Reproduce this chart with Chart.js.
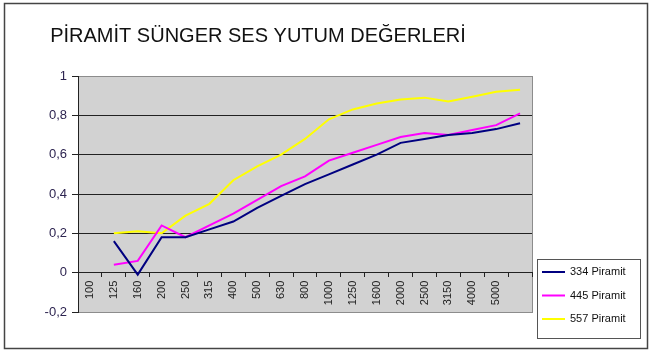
<!DOCTYPE html>
<html>
<head>
<meta charset="utf-8">
<script src="https://cdn.jsdelivr.net/npm/chart.js@4/dist/chart.umd.min.js"></script>
<style>
html, body { margin: 0; padding: 0; background: #fff; }
#wrap { width: 652px; height: 353px; }
</style>
</head>
<body>
<div id="wrap"><canvas id="chart" width="652" height="353"></canvas></div>
<script>
const titleText = 'PİRAMİT SÜNGER SES YUTUM DEĞERLERİ';
const frequencies = ['100', '125', '160', '200', '250', '315', '400', '500', '630', '800', '1000', '1250', '1600', '2000', '2500', '3150', '4000', '5000', ''];
const piramit334 = [null, 0.16, -0.01, 0.18, 0.18, 0.22, 0.26, 0.33, 0.39, 0.45, 0.50, 0.55, 0.60, 0.66, 0.68, 0.70, 0.71, 0.73, 0.76];
const piramit445 = [null, 0.04, 0.06, 0.24, 0.18, 0.24, 0.30, 0.37, 0.44, 0.49, 0.57, 0.61, 0.65, 0.69, 0.71, 0.70, 0.725, 0.75, 0.81];
const piramit557 = [null, 0.20, 0.21, 0.20, 0.29, 0.35, 0.47, 0.54, 0.60, 0.68, 0.78, 0.83, 0.86, 0.88, 0.89, 0.87, 0.895, 0.92, 0.93];
const seriesNames = ['334 Piramit', '445 Piramit', '557 Piramit'];

const FONT = '"Liberation Sans", Arial, sans-serif';

// frame, title, gray plot area and boxed legend
const decor = {
  id: 'decor',
  beforeDraw(chart) {
    const c = chart.ctx, a = chart.chartArea;
    c.save();
    c.fillStyle = '#fff';
    c.fillRect(0, 0, chart.width, chart.height);
    c.strokeStyle = '#444';
    c.lineWidth = 1.5;
    c.strokeRect(4.5, 3.5, 643, 345);
    c.fillStyle = '#d2d2d2';
    c.fillRect(a.left, a.top, a.right - a.left, a.bottom - a.top);
    c.strokeStyle = '#8c8c8c';
    c.lineWidth = 1;
    c.strokeRect(a.left + 0.5, a.top + 0.5, a.right - a.left, a.bottom - a.top);
    c.fillStyle = '#111';
    c.font = '20px ' + FONT;
    c.textAlign = 'center';
    c.textBaseline = 'alphabetic';
    c.fillText(titleText, 258, 42);
    c.restore();
  },
  afterDraw(chart) {
    const c = chart.ctx;
    c.save();
    c.fillStyle = '#fff';
    c.fillRect(537.5, 259.5, 103, 79);
    c.strokeStyle = '#555';
    c.lineWidth = 1;
    c.strokeRect(537.5, 259.5, 103, 79);
    c.font = '11px ' + FONT;
    c.textAlign = 'left';
    c.textBaseline = 'middle';
    chart.data.datasets.forEach((ds, i) => {
      const y = 272 + i * 23.5;
      c.strokeStyle = ds.borderColor;
      c.lineWidth = 2;
      c.beginPath();
      c.moveTo(542, y);
      c.lineTo(565, y);
      c.stroke();
      c.fillStyle = '#111';
      c.fillText(ds.label, 570, y);
    });
    c.restore();
  }
};

new Chart(document.getElementById('chart').getContext('2d'), {
  type: 'line',
  data: {
    labels: frequencies,
    datasets: [
      { label: seriesNames[0], data: piramit334, borderColor: '#000080' },
      { label: seriesNames[1], data: piramit445, borderColor: '#ff00ff' },
      { label: seriesNames[2], data: piramit557, borderColor: '#ffff00' }
    ]
  },
  options: {
    responsive: false,
    animation: false,
    layout: { padding: { left: 0, top: 76, right: 120, bottom: 41 } },
    elements: {
      line: { borderWidth: 2, tension: 0 },
      point: { radius: 0 }
    },
    plugins: { legend: { display: false }, tooltip: { enabled: false } },
    scales: {
      x: {
        position: { y: 0 },
        offset: true,
        grid: { drawOnChartArea: false, drawTicks: true, tickLength: 4, color: '#222', offset: true },
        border: { display: true, color: '#222', width: 1 },
        ticks: {
          autoSkip: false, minRotation: 90, maxRotation: 90, padding: 4,
          color: '#222', font: { family: FONT, size: 11 }
        }
      },
      y: {
        min: -0.2,
        max: 1,
        afterFit(s) { s.width = 78; },
        grid: {
          color: (ctx) => {
            const v = ctx.tick ? Math.round(ctx.tick.value * 10) / 10 : 0;
            return (v === 1 || v === -0.2) ? '#8c8c8c' : '#222';
          },
          tickColor: '#222',
          drawTicks: true, tickLength: 6
        },
        border: { display: true, color: '#222' },
        ticks: {
          stepSize: 0.2, padding: 5,
          color: '#2d2450', font: { family: FONT, size: 13 },
          callback: (v) => String(Math.round(v * 10) / 10).replace('.', ',')
        }
      }
    }
  },
  plugins: [decor]
});
</script>
</body>
</html>
